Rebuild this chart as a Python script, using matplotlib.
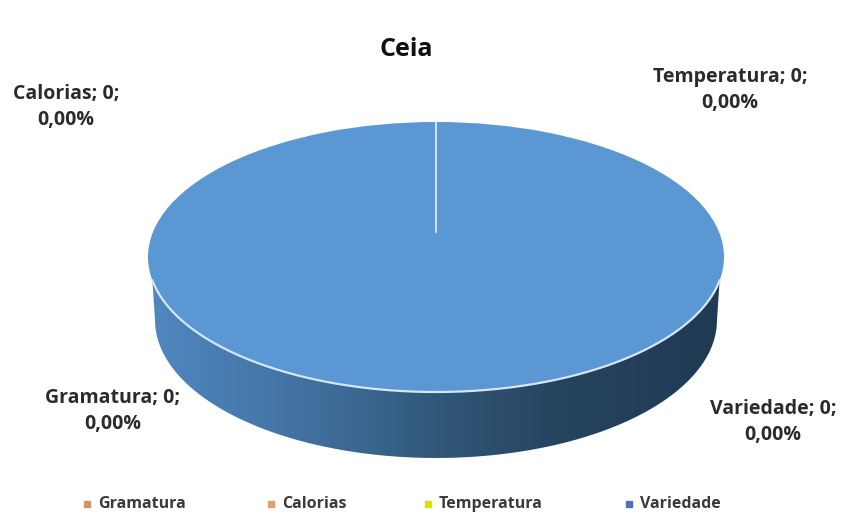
import matplotlib
matplotlib.use('Agg')
import matplotlib.pyplot as plt
import numpy as np
from matplotlib.colors import LinearSegmentedColormap
from matplotlib.patches import PathPatch
from matplotlib.path import Path

plt.rcParams['font.family'] = ['Open Sans', 'DejaVu Sans']

categories = ['Gramatura', 'Calorias', 'Temperatura', 'Variedade']
values = [0, 0, 0, 0]
percents = ['0,00%', '0,00%', '0,00%', '0,00%']
# every label reads 0, but the drawn disc is fully the last category
shares = [0, 0, 0, 1]
colors = ['#d99a6c', '#ed9d50', '#e3e000', '#5b97d3']
legend_colors = ['#c9966f', '#e0a070', '#dfe000', '#5470b0']
title = 'Ceia'

W, H = 842, 517
fig = plt.figure(figsize=(W / 100, H / 100), dpi=100)
ax = fig.add_axes([0, 0, 1, 1])
ax.set_xlim(0, W)
ax.set_ylim(H, 0)
ax.axis('off')

# disc geometry in pixels, the wall bottom is a bit narrower (perspective)
cx, cy, rx, ry = 436, 257, 288, 135
cy2, rx2, ry2 = 320, 281, 138

# side wall, gradient clipped between rim and bottom edge
t = np.radians(np.linspace(10, 170, 200))
rim_x = cx + rx * np.cos(t)
rim_y = cy + ry * np.sin(t)
t2 = np.linspace(0, np.pi, 200)
low_x = cx + rx2 * np.cos(t2)
low_y = cy2 + ry2 * np.sin(t2)
verts = list(zip(low_x, low_y)) + list(zip(rim_x[::-1], rim_y[::-1]))
wall = PathPatch(Path(verts + [verts[0]]), fc='none', ec='none')
ax.add_patch(wall)
cmap = LinearSegmentedColormap.from_list('wall', [
    (0.0, '#5088c0'), (0.28, '#41709f'), (0.5, '#315879'),
    (0.72, '#26435f'), (1.0, '#203a53')])
grad = np.linspace(0, 1, 256).reshape(1, -1)
im = ax.imshow(grad, cmap=cmap, aspect='auto', zorder=1,
               extent=[cx - rx, cx + rx, cy2 + ry2, cy])
im.set_clip_path(wall)
ax.set_xlim(0, W)
ax.set_ylim(H, 0)

# top face as a real pie, squashed into the ellipse
top = fig.add_axes([(cx - rx) / W, 1 - (cy + ry) / H, 2 * rx / W, 2 * ry / H])
top.pie(shares, colors=colors, startangle=90, counterclock=False, radius=1)
top.set_aspect('auto')
top.set_xlim(-1, 1)
top.set_ylim(-1, 1)
top.axis('off')

# light rim along the front and the seam at 12 o'clock
ax.set_zorder(2)
ax.patch.set_visible(False)
ax.plot(rim_x, rim_y, color='#d5e6f6', lw=1.6, zorder=3)
ax.plot([cx, cx], [cy - ry, 232], color='#e4eef8', lw=1.2, zorder=3)

ax.text(406, 49, title, fontsize=18, fontweight='bold', color='#111111',
        ha='center', va='center')

label_pos = [(113, 411), (66, 107), (730, 90), (773, 422)]
for name, val, pct, (lx, ly) in zip(categories, values, percents, label_pos):
    ax.text(lx, ly, f'{name}; {val};\n{pct}', fontsize=14, fontweight='bold',
            color='#2b2b2b', ha='center', va='center', linespacing=1.45)

marker_x = [87, 271, 428, 629]
for name, c, mx in zip(categories, legend_colors, marker_x):
    ax.plot([mx], [504], marker='s', ms=3.8, color=c, ls='none')
    ax.text(mx + 11, 504, name, fontsize=11.5, fontweight='bold', color='#3a3a3a',
            ha='left', va='center')

fig.savefig('out.png', dpi=100, facecolor='white')
